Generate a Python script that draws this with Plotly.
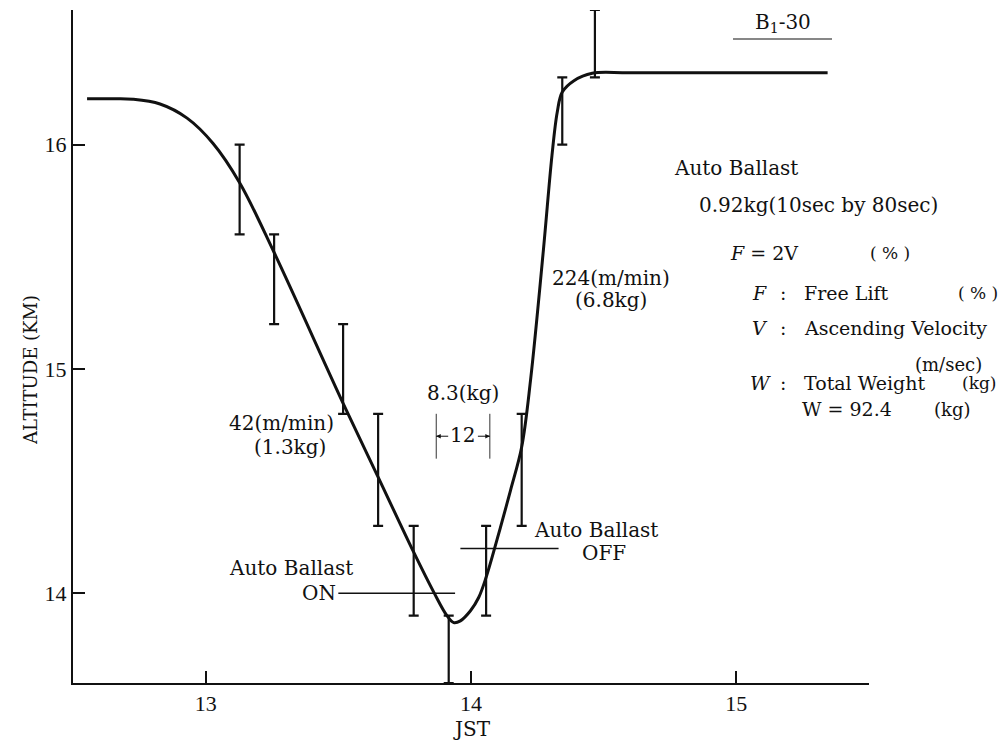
import plotly.graph_objects as go

# ---------------- data ----------------
# altitude curve (JST hours, km)
curve_x = [12.553, 12.65, 12.726, 12.828, 12.930, 13.028, 13.128, 13.258, 13.518, 13.650,
           13.784, 13.860, 13.910, 13.935, 13.960, 13.998, 14.029, 14.057, 14.111, 14.149,
           14.191, 14.2245, 14.273, 14.305, 14.325, 14.344, 14.388, 14.457, 14.60, 15.344]
curve_y = [16.204, 16.204, 16.202, 16.181, 16.118, 16.005, 15.830, 15.519, 14.847, 14.518,
           14.183, 14.004, 13.899, 13.869, 13.877, 13.922, 13.981, 14.071, 14.294, 14.459,
           14.652, 14.951, 15.532, 15.950, 16.144, 16.234, 16.285, 16.318, 16.320, 16.320]

# error bars (JST, lower km, upper km)
eb_x = [13.128, 13.258, 13.518, 13.650, 13.784, 13.916, 14.057, 14.191, 14.344, 14.467]
eb_lo = [15.6, 15.2, 14.8, 14.3, 13.9, 13.6, 13.9, 14.3, 16.0, 16.3]
eb_hi = [16.0, 15.6, 15.2, 14.8, 14.3, 13.9, 14.3, 14.8, 16.3, 16.6]

x_ticks = [13, 14, 15]
y_ticks = [14, 15, 16]
x_range = [12.5, 15.5]
y_range = [13.6, 16.6]

# auto ballast markers
ballast_on_y = 14.0
ballast_on_x = [13.5, 13.94]
ballast_off_y = 14.2
ballast_off_x = [13.96, 14.33]
bracket_x = [13.869, 14.071]
bracket_y = [14.6, 14.8]

# ---------------- layout constants ----------------
W, H = 999, 742
L, R, T, B = 73, 130, 10, 59
PW, PH = W - L - R, H - T - B

def px(xp):
    return (xp - L) / PW

def py(yp):
    return (H - B - yp) / PH

FONT = "DejaVu Serif"
TICKFONT = "Liberation Serif"
BLACK = "#111111"

fig = go.Figure()

fig.add_trace(go.Scatter(
    x=curve_x, y=curve_y, mode="lines",
    line=dict(color=BLACK, width=3, shape="spline", smoothing=1.0),
    showlegend=False, hoverinfo="skip"))

mid = [(a + b) / 2 for a, b in zip(eb_lo, eb_hi)]
half = [(b - a) / 2 for a, b in zip(eb_lo, eb_hi)]
fig.add_trace(go.Scatter(
    x=eb_x, y=mid, mode="markers",
    marker=dict(size=1, color="rgba(0,0,0,0)"),
    error_y=dict(type="data", array=half, visible=True, color=BLACK, thickness=2.2, width=5),
    cliponaxis=False, showlegend=False, hoverinfo="skip"))

shapes = [
    dict(type="line", xref="x", yref="y", x0=ballast_on_x[0], x1=ballast_on_x[1],
         y0=ballast_on_y, y1=ballast_on_y, line=dict(color=BLACK, width=1.5)),
    dict(type="line", xref="x", yref="y", x0=ballast_off_x[0], x1=ballast_off_x[1],
         y0=ballast_off_y, y1=ballast_off_y, line=dict(color=BLACK, width=1.5)),
    dict(type="line", xref="x", yref="y", x0=bracket_x[0], x1=bracket_x[0],
         y0=bracket_y[0], y1=bracket_y[1], line=dict(color="#333333", width=1)),
    dict(type="line", xref="x", yref="y", x0=bracket_x[1], x1=bracket_x[1],
         y0=bracket_y[0], y1=bracket_y[1], line=dict(color="#333333", width=1)),
    dict(type="line", xref="paper", yref="paper", x0=px(733), x1=px(832),
         y0=py(39), y1=py(39), line=dict(color=BLACK, width=1.2)),
    # arrows of the "12" bracket drawn as short lines
    dict(type="line", xref="x", yref="y", x0=bracket_x[0], x1=bracket_x[0] + 0.045,
         y0=14.7, y1=14.7, line=dict(color=BLACK, width=1)),
    dict(type="line", xref="x", yref="y", x0=bracket_x[1] - 0.045, x1=bracket_x[1],
         y0=14.7, y1=14.7, line=dict(color=BLACK, width=1)),
]

def txt(text, xl, yc, size=20, anchor="left"):
    return dict(text=text, x=px(xl), y=py(yc), xref="paper", yref="paper",
                xanchor=anchor, yanchor="middle", showarrow=False,
                font=dict(family=FONT, size=size, color=BLACK))

ann = [
    txt("42(m/min)", 227, 423),
    txt("(1.3kg)", 252, 447),
    txt("Auto Ballast", 227, 568),
    txt("ON", 300, 593),
    txt("8.3(kg)", 463, 393, anchor="center"),
    txt("12", 462, 435, anchor="center"),
    txt("Auto Ballast", 532, 530),
    txt("OFF", 580, 553),
    txt("224(m/min)", 550, 278),
    txt("(6.8kg)", 573, 300),
    txt("B<sub>1</sub>-30", 753, 23),
    txt("Auto Ballast", 672, 168),
    txt("0.92kg(10sec by 80sec)", 697, 205),
    txt("<i>F</i> = 2V", 728, 253, 19),
    txt("( % )", 868, 253, 17),
    txt("<i>F</i>", 750, 293, 19),
    txt(":", 778, 293, 19),
    txt("Free Lift", 802, 293, 19),
    txt("( % )", 956, 293, 17),
    txt("<i>V</i>", 750, 328, 19),
    txt(":", 778, 328, 19),
    txt("Ascending Velocity", 802, 328, 19),
    txt("(m/sec)", 913, 364, 18),
    txt("<i>W</i>", 748, 383, 19),
    txt(":", 778, 383, 19),
    txt("Total Weight", 802, 383, 19),
    txt("(kg)", 960, 383, 17),
    txt("W = 92.4", 800, 409, 19),
    txt("(kg)", 932, 409, 18),
    dict(text="ALTITUDE (KM)", x=px(30), y=py(370), xref="paper", yref="paper",
         xanchor="center", yanchor="middle", textangle=-90, showarrow=False,
         font=dict(family=FONT, size=18, color=BLACK)),
    dict(text="JST", x=px(472), y=py(729), xref="paper", yref="paper",
         xanchor="center", yanchor="middle", showarrow=False,
         font=dict(family=FONT, size=20, color=BLACK)),
    # arrow heads of the "12" bracket
    dict(text="", x=bracket_x[0], y=14.7, xref="x", yref="y", ax=6, ay=0,
         showarrow=True, arrowhead=2, arrowsize=0.9, arrowwidth=1, arrowcolor=BLACK,
         width=1, height=1),
    dict(text="", x=bracket_x[1], y=14.7, xref="x", yref="y", ax=-6, ay=0,
         showarrow=True, arrowhead=2, arrowsize=0.9, arrowwidth=1, arrowcolor=BLACK,
         width=1, height=1),
]

axis_common = dict(showline=True, linewidth=2, linecolor=BLACK, showgrid=False,
                   zeroline=False, ticks="inside", ticklen=12, tickwidth=1.5,
                   tickcolor=BLACK, tickfont=dict(family=TICKFONT, size=22, color=BLACK))

fig.update_layout(
    width=W, height=H,
    margin=dict(l=L, r=R, t=T, b=B),
    paper_bgcolor="white", plot_bgcolor="white",
    xaxis=dict(range=x_range, tickvals=x_ticks, **axis_common),
    yaxis=dict(range=y_range, tickvals=y_ticks, **axis_common),
    shapes=shapes, annotations=ann, showlegend=False,
)

fig.write_html("out.html")
